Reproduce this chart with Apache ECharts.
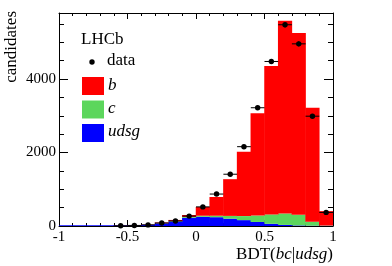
<!DOCTYPE html>
<html>
<head>
<meta charset="utf-8">
<script src="https://cdn.jsdelivr.net/npm/echarts@6/dist/echarts.min.js"></script>
<style>
html,body{margin:0;padding:0;background:#fff;}
#c{width:392px;height:266px;}
</style>
</head>
<body>
<div id="c"></div>
<script>
// Histogram bins (lower edges), width 0.1
var binLow = [-1.0,-0.9,-0.8,-0.7,-0.6,-0.5,-0.4,-0.3,-0.2,-0.1,0.0,0.1,0.2,0.3,0.4,0.5,0.6,0.7,0.8,0.9];
// Stacked templates
var udsg  = [20,20,20,20,20,20,35,72,125,225,250,240,200,160,110,60,30,15,8,5];
var cQ    = [0,0,0,0,0,1,3,6,12,22,30,40,75,110,175,255,310,290,110,8];
var bQ    = [0,0,0,0,5,4,7,17,28,53,240,510,1000,1750,2785,4045,5250,4950,3100,392];
// Data points (bin centres) and values
var dataX = [-0.55,-0.45,-0.35,-0.25,-0.15,-0.05,0.05,0.15,0.25,0.35,0.45,0.55,0.65,0.75,0.85,0.95];
var dataY = [5,15,30,82,137,270,520,870,1410,2160,3220,4480,5480,4960,2990,370];
// Axis ticks
var xTicks = [-1,-0.5,0,0.5,1];
var yTicks = [0,2000,4000];

var FONT = 'Liberation Serif';
var chart = echarts.init(document.getElementById('c'), null, {renderer:'canvas'});

var pts = dataX.map(function(x,i){return [x, dataY[i]];});

var BW = 14.2; // slightly wider than a bin (13.7 px) to hide antialiasing seams

var option = {
  animation:false,
  backgroundColor:'#fff',
  grid:{left:59,right:59,top:13,bottom:40},
  xAxis:[
    {type:'category', data:binLow.map(String), show:false, boundaryGap:true},
    {type:'value', position:'bottom', min:-1, max:1, interval:0.5,
      axisLine:{show:true,onZero:false,lineStyle:{color:'#000',width:1}},
      axisTick:{show:true,inside:true,length:6,lineStyle:{color:'#000'}},
      minorTick:{show:true,splitNumber:5,length:3,lineStyle:{color:'#000'}},
      splitLine:{show:false},
      axisLabel:{color:'#000',fontFamily:FONT,fontSize:15,margin:4,
        formatter:function(v){return xTicks.indexOf(v)>=0?String(v):'';}}
    },
    {type:'value', position:'top', min:-1, max:1, interval:0.5,
      axisLine:{show:true,onZero:false,lineStyle:{color:'#000',width:1}},
      axisTick:{show:true,inside:true,length:6,lineStyle:{color:'#000'}},
      minorTick:{show:true,splitNumber:5,length:3,lineStyle:{color:'#000'}},
      splitLine:{show:false}, axisLabel:{show:false}
    }
  ],
  yAxis:[
    {type:'value', position:'left', min:0, max:5800, interval:2000,
      axisLine:{show:true,onZero:false,lineStyle:{color:'#000',width:1}},
      axisTick:{show:true,inside:true,length:9,lineStyle:{color:'#000'}},
      minorTick:{show:true,splitNumber:4,length:5,lineStyle:{color:'#000'}},
      splitLine:{show:false},
      axisLabel:{color:'#000',fontFamily:FONT,fontSize:15,margin:3,showMaxLabel:false,
        formatter:function(v){return yTicks.indexOf(v)>=0?String(v):'';}}
    },
    {type:'value', position:'right', min:0, max:5800, interval:2000,
      axisLine:{show:true,onZero:false,lineStyle:{color:'#000',width:1}},
      axisTick:{show:true,inside:true,length:9,lineStyle:{color:'#000'}},
      minorTick:{show:true,splitNumber:4,length:5,lineStyle:{color:'#000'}},
      splitLine:{show:false}, axisLabel:{show:false}
    }
  ],
  series:[
    {type:'bar', name:'udsg', xAxisIndex:0, yAxisIndex:0, stack:'mc', data:udsg,
      barWidth:BW, barGap:'-100%', itemStyle:{color:'#0000ff'}, silent:true},
    {type:'bar', name:'c', xAxisIndex:0, yAxisIndex:0, stack:'mc', data:cQ,
      barWidth:BW, barGap:'-100%', itemStyle:{color:'#5cd65c'}, silent:true},
    {type:'bar', name:'b', xAxisIndex:0, yAxisIndex:0, stack:'mc', data:bQ,
      barWidth:BW, barGap:'-100%', itemStyle:{color:'#ff0000'}, silent:true},
    {type:'custom', name:'data', xAxisIndex:1, yAxisIndex:0, data:pts, silent:true, z:10,
      renderItem:function(params, api){
        var x = api.value(0), y = api.value(1);
        var e = Math.sqrt(y);
        var l = api.coord([x-0.05,y]), r = api.coord([x+0.05,y]);
        var t = api.coord([x,y+e]), b = api.coord([x,y-e]);
        var c = api.coord([x,y]);
        return {type:'group', children:[
          {type:'line', shape:{x1:l[0],y1:l[1],x2:r[0],y2:r[1]}, style:{stroke:'#000',lineWidth:1}},
          {type:'line', shape:{x1:t[0],y1:t[1],x2:b[0],y2:b[1]}, style:{stroke:'#000',lineWidth:1}},
          {type:'circle', shape:{cx:c[0],cy:c[1],r:2.7}, style:{fill:'#000'}}
        ]};
      }
    }
  ],
  graphic:[
    {type:'text', x:12, y:11, rotation:Math.PI/2,
      style:{text:'candidates', fontFamily:FONT, fontSize:17, fill:'#000', align:'right', verticalAlign:'middle'}},
    {type:'text', x:333, y:255,
      style:{text:'{n|BDT(}{i|bc}{n||}{i|udsg}{n|)}', align:'right', verticalAlign:'middle',
        rich:{n:{fontFamily:FONT,fontSize:17,fill:'#000'}, i:{fontFamily:FONT,fontSize:17,fontStyle:'italic',fill:'#000'}}}},
    {type:'text', x:81, y:39.5, style:{text:'LHCb', fontFamily:FONT, fontSize:17, fill:'#000', verticalAlign:'middle'}},
    {type:'circle', shape:{cx:92, cy:62, r:2.7}, style:{fill:'#000'}},
    {type:'text', x:107, y:61, style:{text:'data', fontFamily:FONT, fontSize:17, fill:'#000', verticalAlign:'middle'}},
    {type:'rect', shape:{x:82, y:77, width:22, height:18}, style:{fill:'#ff0000'}},
    {type:'text', x:108, y:85.5, style:{text:'b', fontFamily:FONT, fontSize:17, fontStyle:'italic', fill:'#000', verticalAlign:'middle'}},
    {type:'rect', shape:{x:82, y:100.5, width:22, height:18}, style:{fill:'#5cd65c'}},
    {type:'text', x:108, y:108.5, style:{text:'c', fontFamily:FONT, fontSize:17, fontStyle:'italic', fill:'#000', verticalAlign:'middle'}},
    {type:'rect', shape:{x:82, y:124, width:22, height:18}, style:{fill:'#0000ff'}},
    {type:'text', x:108, y:132, style:{text:'udsg', fontFamily:FONT, fontSize:17, fontStyle:'italic', fill:'#000', verticalAlign:'middle'}}
  ]
};
chart.setOption(option);
</script>
</body>
</html>
